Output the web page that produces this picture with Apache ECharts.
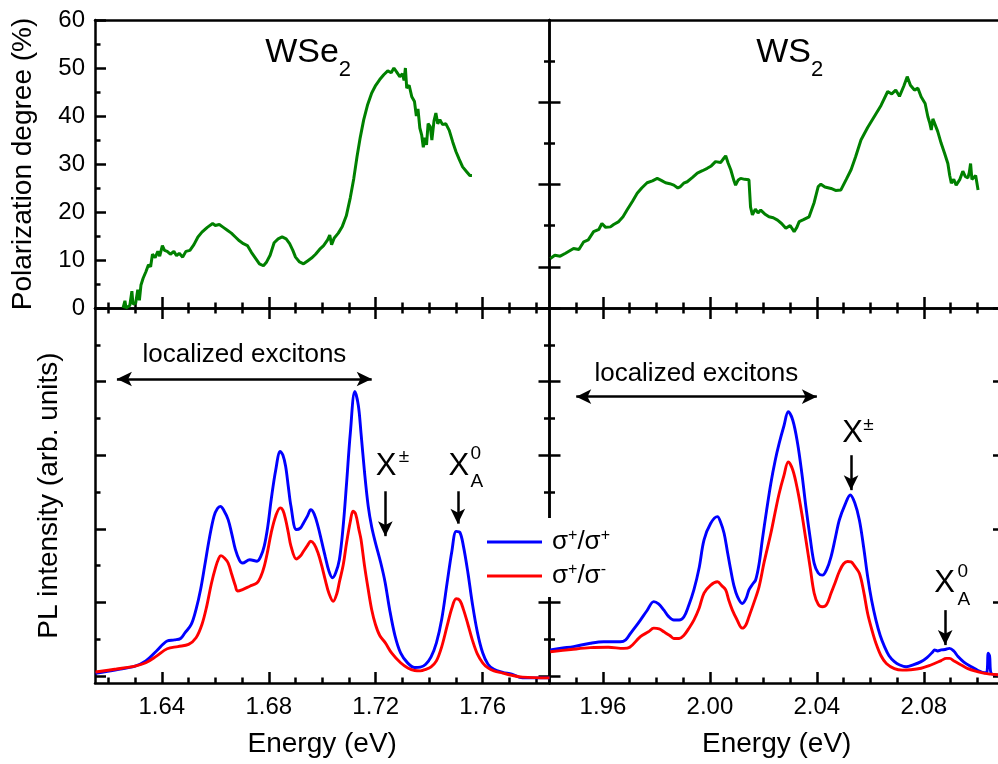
<!DOCTYPE html>
<html><head><meta charset="utf-8">
<script src="https://cdn.jsdelivr.net/npm/echarts@6/dist/echarts.min.js"></script>
<style>html,body{margin:0;padding:0;background:#fff}#c{width:998px;height:764px}</style>
</head><body><div id="c"></div>
<script>
// ---------------- data ----------------
const wse2Range = [1.615, 1.785];
const ws2Range = [1.94, 2.11];
const wse2MajorTicks = [1.64, 1.68, 1.72, 1.76];
const wse2MinorTicks = [1.62,1.63,1.65,1.66,1.67,1.69,1.70,1.71,1.73,1.74,1.75,1.77,1.78];
const ws2MajorTicks = [1.96, 2.00, 2.04, 2.08];
const ws2MinorTicks = [1.95,1.97,1.98,1.99,2.01,2.02,2.03,2.05,2.06,2.07,2.09,2.10];
const polRange = [0, 60];
const plRange = [-0.19, 10];
const plMajorTicks = [0,2,4,6,8,10];
const plMinorTicks = [1,3,5,7,9];
const ws2FrameRange = [0, 7];
const ws2FrameMajor = [1,3,5];
const ws2FrameMinor = [2,4,6];

const wse2PolE = [1.6255,1.6262,1.6266,1.6280,1.6288,1.6292,1.6302,1.6310,1.6316,1.6322,1.6330,1.6340,1.6350,1.6358,1.6365,1.6375,1.6385,1.6392,1.6402,1.6410,1.6420,1.6432,1.6445,1.6455,1.6465,1.6478,1.6490,1.6505,1.6520,1.6535,1.6550,1.6570,1.6590,1.6600,1.6615,1.6630,1.6645,1.6660,1.6675,1.6690,1.6705,1.6720,1.6735,1.6750,1.6765,1.6780,1.6792,1.6805,1.6820,1.6835,1.6850,1.6865,1.6878,1.6890,1.6900,1.6915,1.6930,1.6945,1.6960,1.6975,1.6990,1.7005,1.7020,1.7028,1.7035,1.7045,1.7060,1.7075,1.7090,1.7105,1.7118,1.7130,1.7142,1.7155,1.7170,1.7185,1.7200,1.7215,1.7230,1.7245,1.7258,1.7268,1.7278,1.7290,1.7300,1.7306,1.7311,1.7316,1.7325,1.7335,1.7345,1.7352,1.7358,1.7365,1.7372,1.7378,1.7383,1.7390,1.7396,1.7404,1.7410,1.7418,1.7425,1.7432,1.7440,1.7450,1.7462,1.7475,1.7488,1.7500,1.7512,1.7525,1.7540,1.7552,1.7560];
const wse2PolVal = [0,1.5,0,0.5,3.5,0.8,1.0,3.8,1.6,4.8,6.2,7.5,9.0,8.6,11.2,10.5,11.8,10.8,13.0,12.0,11.8,11.2,11.8,10.9,11.4,10.6,11.8,12.0,13.2,14.8,15.8,16.8,17.6,17.2,17.4,16.8,16.2,15.6,14.8,14.0,13.4,13.0,11.6,10.4,9.2,8.8,9.6,11.0,13.6,14.4,14.8,14.4,13.4,12.0,10.6,9.6,9.2,9.8,10.4,11.2,12.2,13.0,14.2,15.2,13.2,14.6,15.6,17.0,19.2,23.0,27.0,31.5,35.5,39.2,42.4,44.8,46.4,47.6,48.6,49.4,49.0,50.0,49.2,48.2,48.8,47.4,50.0,45.8,46.4,44.0,43.0,40.0,41.5,37.5,36.0,33.5,35.5,34.0,38.4,37.8,35.0,39.0,40.6,38.4,39.2,38.2,38.4,37.0,34.6,32.6,31.0,29.4,28.4,27.6,27.6];

const ws2PolE = [1.9403,1.9420,1.9440,1.9460,1.9490,1.9510,1.9528,1.9545,1.9565,1.9585,1.9596,1.9610,1.9628,1.9640,1.9659,1.9675,1.9690,1.9710,1.9728,1.9745,1.9765,1.9785,1.9803,1.9818,1.9834,1.9850,1.9865,1.9880,1.9890,1.9902,1.9915,1.9935,1.9953,1.9972,1.9990,2.0005,2.0021,2.0040,2.0052,2.0059,2.0068,2.0078,2.0090,2.0096,2.0105,2.0115,2.0130,2.0146,2.0152,2.0159,2.0170,2.0180,2.0190,2.0205,2.0221,2.0237,2.0253,2.0268,2.0284,2.0300,2.0315,2.0325,2.0334,2.0350,2.0371,2.0390,2.0405,2.0415,2.0430,2.0453,2.0470,2.0490,2.0510,2.0528,2.0545,2.0565,2.0590,2.0615,2.0640,2.0665,2.0680,2.0695,2.0709,2.0725,2.0738,2.0750,2.0765,2.0778,2.0790,2.0805,2.0815,2.0822,2.0828,2.0834,2.0840,2.0852,2.0865,2.0878,2.0890,2.0897,2.0903,2.0912,2.0921,2.0935,2.0946,2.0955,2.0965,2.0970,2.0975,2.0980,2.0984,2.0994,2.1003];
const ws2PolVal = [10.3,11.0,10.8,11.4,12.4,12.2,13.8,14.2,15.9,16.4,17.6,16.8,16.9,17.4,18.0,19.0,20.4,22.2,23.9,25.0,26.1,26.5,27.0,26.6,26.1,25.9,25.6,25.0,25.3,26.0,26.3,27.2,28.1,28.6,29.1,29.6,30.5,30.3,31.2,31.7,30.2,28.8,26.5,25.6,26.6,27.0,26.8,26.7,21.0,19.4,20.6,19.8,20.4,19.6,19.0,18.8,18.3,17.6,16.6,17.2,15.9,16.8,18.0,18.4,19.0,22.0,25.3,25.8,25.2,24.9,24.5,24.6,26.8,28.8,31.5,35.0,37.6,39.9,42.2,45.1,44.6,45.4,44.1,46.2,48.2,46.4,45.4,45.8,44.0,42.6,39.9,38.6,37.1,39.4,39.2,36.8,34.3,32.2,30.1,27.6,26.0,26.8,25.6,26.8,28.5,27.4,27.1,28.2,30.1,26.8,27.1,27.6,24.6];

const wse2BlueE = [1.6152,1.6230,1.6300,1.6340,1.6380,1.6420,1.6447,1.6470,1.6487,1.6510,1.6528,1.6545,1.6560,1.6578,1.6595,1.6608,1.6619,1.6632,1.6648,1.6662,1.6675,1.6690,1.6702,1.6729,1.6756,1.6770,1.6783,1.6796,1.6809,1.6826,1.6843,1.6853,1.6863,1.6873,1.6883,1.6903,1.6918,1.6930,1.6945,1.6957,1.6970,1.6984,1.6998,1.7011,1.7025,1.7038,1.7050,1.7064,1.7078,1.7091,1.7105,1.7122,1.7135,1.7145,1.7158,1.7172,1.7185,1.7199,1.7219,1.7235,1.7252,1.7272,1.7293,1.7320,1.7346,1.7367,1.7387,1.7407,1.7427,1.7447,1.7467,1.7485,1.7501,1.7515,1.7528,1.7545,1.7561,1.7580,1.7600,1.7620,1.7642,1.7675,1.7709,1.7749,1.7850];
const wse2BlueVal = [0.07,0.17,0.27,0.41,0.68,0.95,0.98,1.02,1.18,1.40,1.81,2.35,2.98,3.75,4.34,4.55,4.61,4.50,4.25,3.85,3.44,3.15,3.07,3.16,3.12,3.25,3.53,4.05,4.79,5.60,6.10,6.00,5.70,5.15,4.61,3.98,4.02,4.16,4.35,4.52,4.40,4.07,3.65,3.25,2.85,2.67,2.80,3.16,4.05,5.24,6.60,7.73,7.35,6.60,5.55,4.61,4.05,3.62,3.07,2.55,1.81,1.10,0.63,0.35,0.23,0.24,0.32,0.52,0.90,1.55,2.53,3.40,3.93,3.90,3.53,2.80,1.99,1.20,0.63,0.32,0.18,0.10,0.05,-0.05,-0.05];

const wse2RedE = [1.6152,1.6230,1.6300,1.6340,1.6380,1.6420,1.6460,1.6500,1.6528,1.6550,1.6568,1.6585,1.6601,1.6613,1.6621,1.6635,1.6648,1.6662,1.6675,1.6683,1.6702,1.6729,1.6756,1.6770,1.6783,1.6796,1.6809,1.6826,1.6843,1.6853,1.6863,1.6873,1.6883,1.6903,1.6918,1.6930,1.6945,1.6957,1.6970,1.6984,1.6998,1.7011,1.7025,1.7041,1.7055,1.7064,1.7078,1.7091,1.7105,1.7115,1.7125,1.7138,1.7145,1.7158,1.7172,1.7185,1.7199,1.7215,1.7236,1.7260,1.7293,1.7320,1.7346,1.7367,1.7387,1.7407,1.7427,1.7447,1.7467,1.7485,1.7501,1.7515,1.7528,1.7545,1.7561,1.7580,1.7600,1.7620,1.7642,1.7675,1.7709,1.7749,1.7850];
const wse2RedVal = [0.11,0.19,0.27,0.36,0.54,0.74,0.80,0.86,1.04,1.40,1.90,2.50,2.95,3.20,3.27,3.20,3.07,2.75,2.45,2.31,2.35,2.44,2.53,2.70,2.98,3.40,3.89,4.35,4.57,4.50,4.25,3.90,3.53,3.18,3.26,3.39,3.55,3.66,3.58,3.35,3.00,2.62,2.25,2.03,2.25,2.55,3.00,3.62,4.20,4.48,4.40,3.95,3.71,3.00,2.35,1.80,1.40,1.10,0.90,0.62,0.36,0.22,0.15,0.14,0.18,0.25,0.41,0.80,1.36,1.85,2.10,2.05,1.81,1.40,0.99,0.60,0.36,0.22,0.14,0.08,0.02,-0.03,-0.05];

const ws2BlueE = [1.9403,1.9450,1.9490,1.9553,1.9603,1.9665,1.9685,1.9703,1.9720,1.9740,1.9765,1.9790,1.9808,1.9828,1.9845,1.9865,1.9885,1.9903,1.9920,1.9940,1.9960,1.9978,2.0003,2.0028,2.0040,2.0053,2.0065,2.0078,2.0090,2.0103,2.0121,2.0135,2.0146,2.0160,2.0171,2.0184,2.0196,2.0212,2.0228,2.0244,2.0259,2.0277,2.0293,2.0310,2.0328,2.0344,2.0359,2.0375,2.0390,2.0405,2.0421,2.0437,2.0453,2.0469,2.0484,2.0505,2.0525,2.0542,2.0559,2.0575,2.0590,2.0605,2.0621,2.0637,2.0653,2.0670,2.0690,2.0710,2.0734,2.0760,2.0790,2.0812,2.0834,2.0840,2.0852,2.0865,2.0880,2.0896,2.0912,2.0928,2.0950,2.0978,2.1003,2.1028,2.1036,2.1041,2.1046,2.1052,2.1083];
const ws2BlueVal = [0.71,0.76,0.80,0.89,0.93,0.93,0.98,1.16,1.32,1.52,1.78,2.02,1.96,1.79,1.62,1.52,1.52,1.61,1.90,2.34,2.95,3.70,4.15,4.33,4.18,3.88,3.40,2.88,2.45,2.16,1.97,2.10,2.34,2.50,2.61,3.05,3.70,4.50,5.24,5.85,6.32,6.80,7.18,6.95,6.32,5.50,4.60,3.75,3.06,2.80,2.74,2.90,3.24,3.75,4.24,4.65,4.92,4.70,4.24,3.50,2.70,2.05,1.52,1.10,0.80,0.55,0.39,0.30,0.25,0.30,0.39,0.50,0.66,0.71,0.68,0.71,0.72,0.75,0.68,0.53,0.38,0.25,0.15,0.09,0.10,0.62,0.55,0.07,0.03];

const ws2RedE = [1.9403,1.9480,1.9553,1.9620,1.9678,1.9700,1.9740,1.9770,1.9790,1.9810,1.9828,1.9850,1.9865,1.9885,1.9903,1.9920,1.9940,1.9960,1.9978,2.0003,2.0028,2.0045,2.0059,2.0071,2.0084,2.0100,2.0121,2.0134,2.0146,2.0165,2.0184,2.0203,2.0228,2.0244,2.0259,2.0277,2.0293,2.0310,2.0328,2.0344,2.0359,2.0375,2.0390,2.0405,2.0421,2.0437,2.0453,2.0469,2.0484,2.0500,2.0515,2.0528,2.0540,2.0559,2.0575,2.0590,2.0606,2.0621,2.0640,2.0660,2.0690,2.0720,2.0750,2.0790,2.0820,2.0840,2.0865,2.0884,2.0896,2.0915,2.0940,2.0965,2.1000,2.1028,2.1050,2.1083];
const ws2RedVal = [0.66,0.72,0.77,0.78,0.75,0.78,1.07,1.20,1.30,1.28,1.20,1.10,1.02,1.02,1.11,1.28,1.52,1.85,2.25,2.47,2.56,2.45,2.34,2.05,1.79,1.55,1.30,1.38,1.61,2.00,2.43,3.10,3.88,4.45,4.96,5.45,5.82,5.60,5.05,4.40,3.70,2.95,2.25,1.95,1.88,1.95,2.25,2.55,2.84,3.05,3.11,3.10,3.00,2.79,2.30,1.70,1.25,0.89,0.55,0.34,0.20,0.16,0.17,0.21,0.28,0.34,0.42,0.48,0.48,0.40,0.30,0.20,0.12,0.07,0.05,0.03];

// ---------------- chart ----------------
const FONT = '"Liberation Sans", Arial, Helvetica, sans-serif';
const LW = 2.5, MAJ = 11, MIN = 5.5;
const BLACK = '#000';
const blueName = 'σ+/σ+';
const redName = 'σ+/σ-';
const zip = (xs, ys) => xs.map((x, i) => [x, ys[i]]);

function ax(o) {
  return {
    type: 'value', gridIndex: o.grid, position: o.pos,
    min: o.range[0], max: o.range[1],
    splitLine: {show: false},
    axisLine: {show: !!o.line, onZero: false, lineStyle: {color: BLACK, width: LW}},
    axisTick: o.ticks ? {show: true, inside: true, length: o.len, customValues: o.ticks,
      lineStyle: {color: BLACK, width: LW}} : {show: false},
    axisLabel: {show: false},
    minorTick: {show: false}
  };
}

const xAxes = [
  ax({grid: 0, pos: 'bottom', range: wse2Range, line: true, ticks: wse2MajorTicks, len: MAJ}),
  ax({grid: 1, pos: 'bottom', range: ws2Range, line: true, ticks: ws2MajorTicks, len: MAJ}),
  ax({grid: 2, pos: 'bottom', range: wse2Range, line: true, ticks: wse2MajorTicks, len: MAJ}),
  ax({grid: 3, pos: 'bottom', range: ws2Range, line: true, ticks: ws2MajorTicks, len: MAJ}),
  ax({grid: 0, pos: 'bottom', range: wse2Range, ticks: wse2MinorTicks, len: MIN}),
  ax({grid: 1, pos: 'bottom', range: ws2Range, ticks: ws2MinorTicks, len: MIN}),
  ax({grid: 2, pos: 'bottom', range: wse2Range, ticks: wse2MinorTicks, len: MIN}),
  ax({grid: 3, pos: 'bottom', range: ws2Range, ticks: ws2MinorTicks, len: MIN}),
  ax({grid: 2, pos: 'top', range: wse2Range, line: true, ticks: wse2MajorTicks, len: MAJ}),
  ax({grid: 2, pos: 'top', range: wse2Range, ticks: wse2MinorTicks, len: MIN}),
  ax({grid: 3, pos: 'top', range: ws2Range, line: true, ticks: ws2MajorTicks, len: MAJ}),
  ax({grid: 3, pos: 'top', range: ws2Range, ticks: ws2MinorTicks, len: MIN}),
  ax({grid: 0, pos: 'top', range: wse2Range, line: true}),
  ax({grid: 1, pos: 'top', range: ws2Range, line: true})
];
[2, 3].forEach((i, k) => {
  xAxes[i].axisLabel = {show: true, customValues: k === 0 ? wse2MajorTicks : ws2MajorTicks,
    formatter: v => v.toFixed(2), fontSize: 24, color: BLACK, fontFamily: FONT, margin: 12};
  xAxes[i].name = 'Energy (eV)';
  xAxes[i].nameLocation = 'middle';
  xAxes[i].nameGap = 47;
  xAxes[i].nameTextStyle = {fontSize: 28, color: BLACK, fontFamily: FONT};
});

const yAxes = [
  Object.assign(ax({grid: 0, pos: 'left', range: polRange, line: true}), {
    interval: 10,
    axisTick: {show: true, inside: true, length: MAJ, lineStyle: {color: BLACK, width: LW}},
    minorTick: {show: true, splitNumber: 2, length: MIN, lineStyle: {color: BLACK, width: LW}},
    axisLabel: {show: true, fontSize: 24, color: BLACK, fontFamily: FONT, margin: 10},
    name: 'Polarization degree (%)', nameLocation: 'middle', nameGap: 58,
    nameTextStyle: {fontSize: 28, color: BLACK, fontFamily: FONT}
  }),
  ax({grid: 1, pos: 'left', range: polRange, line: true}),
  Object.assign(ax({grid: 2, pos: 'left', range: plRange, line: true, ticks: plMajorTicks, len: MAJ}), {
    name: 'PL intensity (arb. units)', nameLocation: 'middle', nameGap: 32,
    nameTextStyle: {fontSize: 28, color: BLACK, fontFamily: FONT}
  }),
  ax({grid: 3, pos: 'left', range: plRange, line: true, ticks: plMajorTicks, len: MAJ}),
  ax({grid: 2, pos: 'left', range: plRange, ticks: plMinorTicks, len: MIN}),
  ax({grid: 3, pos: 'left', range: plRange, ticks: plMinorTicks, len: MIN}),
  ax({grid: 2, pos: 'right', range: plRange, line: true, ticks: plMajorTicks, len: MAJ}),
  ax({grid: 2, pos: 'right', range: plRange, ticks: plMinorTicks, len: MIN}),
  ax({grid: 3, pos: 'right', range: plRange, line: true, ticks: plMajorTicks, len: MAJ}),
  ax({grid: 3, pos: 'right', range: plRange, ticks: plMinorTicks, len: MIN}),
  ax({grid: 0, pos: 'right', range: ws2FrameRange, line: true, ticks: ws2FrameMajor, len: MAJ}),
  ax({grid: 0, pos: 'right', range: ws2FrameRange, ticks: ws2FrameMinor, len: MIN}),
  ax({grid: 1, pos: 'left', range: ws2FrameRange, ticks: ws2FrameMajor, len: MAJ}),
  ax({grid: 1, pos: 'left', range: ws2FrameRange, ticks: ws2FrameMinor, len: MIN}),
  ax({grid: 1, pos: 'right', range: polRange, line: true})
];

function txt(coord, text, size, align) {
  return {coord: coord, symbol: 'circle', symbolSize: 1, itemStyle: {color: 'rgba(0,0,0,0)'},
    label: {show: true, position: 'inside', formatter: text, fontSize: size, fontFamily: FONT,
      color: BLACK, align: align || 'center', verticalAlign: 'middle'}};
}
function arrow2(x1, x2, y) {
  return [{coord: [x1, y], symbol: 'arrow'}, {coord: [x2, y], symbol: 'arrow'}];
}
function arrowDown(x, y1, y2) {
  return [{coord: [x, y1], symbol: 'none'}, {coord: [x, y2], symbol: 'arrow'}];
}
function marks(points, lines) {
  return {
    markPoint: {silent: true, animation: false, data: points},
    markLine: {silent: true, animation: false, symbolSize: [11, 15],
      lineStyle: {color: BLACK, width: LW, type: 'solid'}, label: {show: false},
      emphasis: {disabled: true}, data: lines}
  };
}
function line(name, data, xi, yi, color, smooth, w) {
  return {type: 'line', name: name, data: data, xAxisIndex: xi, yAxisIndex: yi,
    showSymbol: false, symbol: 'none', smooth: smooth, animation: false, silent: true,
    lineStyle: {color: color, width: w}, itemStyle: {color: color}};
}

const series = [
  Object.assign(line('WSe2 pol', zip(wse2PolE, wse2PolVal), 0, 0, '#008000', false, 3),
    marks([txt([1.7062, 53.1], 'WSe', 34, 'right'), txt([1.7062, 49.6], '2', 22, 'left')], [])),
  Object.assign(line('WS2 pol', zip(ws2PolE, ws2PolVal), 1, 1, '#008000', false, 3),
    marks([txt([2.0378, 53.1], 'WS', 34, 'right'), txt([2.0378, 49.6], '2', 22, 'left')], [])),
  Object.assign(line(blueName, zip(wse2BlueE, wse2BlueVal), 2, 2, '#0000ff', 0.35, 2.9),
    marks([
      txt([1.6709, 8.72], 'localized excitons', 26),
      txt([1.7239, 5.70], 'X', 31), txt([1.7306, 5.97], '±', 19),
      txt([1.7511, 5.70], 'X', 31), txt([1.7574, 6.04], '0', 19), txt([1.7578, 5.29], 'A', 19)
    ], [arrow2(1.6232, 1.7185, 8.07), arrowDown(1.7236, 5.02, 3.80), arrowDown(1.7507, 5.02, 4.14)])),
  line(redName, zip(wse2RedE, wse2RedVal), 2, 2, '#ff0000', 0.35, 2.9),
  Object.assign(line(blueName, zip(ws2BlueE, ws2BlueVal), 3, 3, '#0000ff', 0.35, 2.9),
    marks([
      txt([1.9949, 8.22], 'localized excitons', 26),
      txt([2.0534, 6.59], 'X', 31), txt([2.0593, 6.82], '±', 19),
      txt([2.0878, 2.52], 'X', 31), txt([2.0946, 2.84], '0', 19), txt([2.0950, 2.07], 'A', 19)
    ], [arrow2(1.950, 2.040, 7.59), arrowDown(2.0528, 6.0, 5.05), arrowDown(2.088, 1.79, 0.84)])),
  line(redName, zip(ws2RedE, ws2RedVal), 3, 3, '#ff0000', 0.35, 2.9)
];

const gridBase = {containLabel: false, outerBoundsMode: 'none', show: false};
const chart = echarts.init(document.getElementById('c'), null, {renderer: 'canvas'});
chart.setOption({
  animation: false,
  backgroundColor: '#fff',
  textStyle: {fontFamily: FONT},
  grid: [
    Object.assign({left: 95, top: 20, width: 454.5, height: 288}, gridBase),
    Object.assign({left: 549.5, top: 20, width: 454.5, height: 288}, gridBase),
    Object.assign({left: 95, top: 308, width: 454.5, height: 375}, gridBase),
    Object.assign({left: 549.5, top: 308, width: 454.5, height: 375}, gridBase)
  ],
  legend: {
    data: [blueName, redName], orient: 'vertical', left: 482, top: 518,
    itemWidth: 55, itemHeight: 3, itemGap: 7, icon: 'rect',
    padding: [10, 12, 8, 5], backgroundColor: '#fff', z: 10, selectedMode: false,
    formatter: n => n === blueName ? '{p|σ}{s|+}{a|/σ}{s|+}' : '{p|σ}{s|+}{a|/σ}{s|-}',
    textStyle: {color: BLACK, fontFamily: FONT, fontSize: 26, rich: {
      p: {fontSize: 26, fontFamily: FONT, color: BLACK, lineHeight: 28, padding: [0, 0, 0, 5]},
      a: {fontSize: 26, fontFamily: FONT, color: BLACK, lineHeight: 28},
      s: {fontSize: 16, fontFamily: FONT, color: BLACK, lineHeight: 12, verticalAlign: 'top'}
    }}
  },
  xAxis: xAxes,
  yAxis: yAxes,
  series: series
});
</script>
</body></html>
